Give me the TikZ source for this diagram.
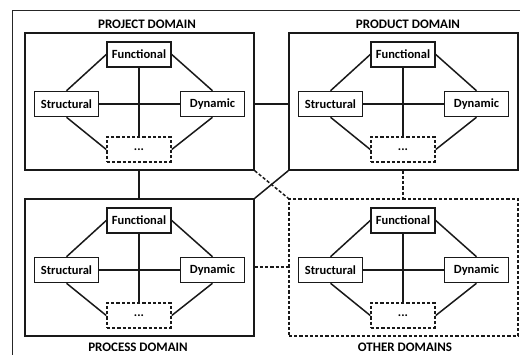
\documentclass[tikz,border=0pt]{standalone}
\usepackage{fontspec}
\setmainfont{Carlito}
\begin{document}
\begin{tikzpicture}[x=1pt,y=-1pt,
  ln/.style={line width=1.5pt, draw=black!90},
  dsh/.style={dash pattern=on 3.2pt off 2pt},
  inner/.style={ln, draw, fill=white, minimum width=64pt, minimum height=25pt, inner sep=1pt, font=\bfseries\fontsize{12.5}{14}\selectfont},
  dombox/.style={ln, draw, minimum width=229pt, minimum height=137pt, inner sep=0pt},
  domlabel/.style={font=\bfseries\fontsize{13}{15}\selectfont}]
\useasboundingbox (0,0) rectangle (520,354);
\begin{scope}
\clip (0,0) rectangle (520,354);
\draw[line width=1pt, draw=black!85] (12,400) -- (12,10) -- (560,10);
\end{scope}
\newcommand\mydomain[4]{%
  \node[dombox,#4] (#1box) at (#2+114.5,#3+68.5) {};
  \node[inner] (#1F) at (#2+114,#3+21.5) {Functional};
  \node[inner] (#1S) at (#2+41.5,#3+71) {Structural};
  \node[inner] (#1D) at (#2+187.5,#3+71) {Dynamic};
  \node[inner,dsh] (#1X) at (#2+114,#3+116.5) {...};
  \draw[ln] (#1F) -- (#1X);
  \draw[ln] (#1S) -- (#1D);
  \draw[ln] (#1F.west) -- (#1S.north);
  \draw[ln] (#1S.south) -- (#1X.west);
  \draw[ln] (#1X.east) -- (#1D.south);
  \draw[ln] (#1D.north) -- (#1F.east);
}
\mydomain{pj}{25}{33}{}
\mydomain{pd}{289}{33}{}
\mydomain{pc}{25}{199}{}
\mydomain{ot}{289}{199}{dsh}
\node[domlabel] (pjl) at (147,24) {PROJECT DOMAIN};
\node[domlabel] (pdl) at (408,24) {PRODUCT DOMAIN};
\node[domlabel] (pcl) at (138,347) {PROCESS DOMAIN};
\node[domlabel] (otl) at (405,347) {OTHER DOMAINS};
\draw[ln] (pjbox.east |- pjD) -- (pdbox.west |- pdS);
\draw[ln] (pjbox.south -| pjF) -- (pcbox.north -| pcF);
\draw[ln,dsh] (pdbox.south -| pdF) -- (otbox.north -| otF);
\draw[ln,dsh] ([yshift=0.5pt]pcbox.east) -- ([yshift=0.5pt]otbox.west);
\draw[ln,dsh] (pjbox.south east) -- (otbox.north west);
\draw[ln] (pdbox.south west) -- (pcbox.north east);
\end{tikzpicture}
\end{document}
